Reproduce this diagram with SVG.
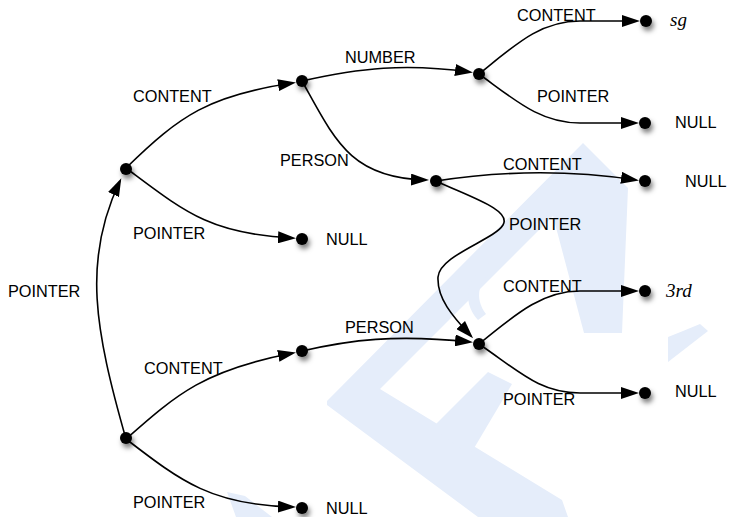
<svg xmlns="http://www.w3.org/2000/svg" width="729" height="517" viewBox="0 0 729 517">
  <defs>
    <style>
      .edge { fill: none; stroke: #000; stroke-width: 1.6; marker-end: url(#arrow); }
      .dot { fill: #000; filter: url(#shadow); }
      .lbl { font-family: "Liberation Sans", Arial, sans-serif; font-size: 16.3px; fill: #000; }
      .val { font-family: "Liberation Serif", "Times New Roman", serif; font-style: italic; font-size: 19px; fill: #000; }
      .mark { fill: #e5edfa; }
    </style>
    <marker id="arrow" markerUnits="userSpaceOnUse" markerWidth="18" markerHeight="12" refX="15" refY="6" orient="auto">
      <path d="M0,0 L18,6 L0,12 z" fill="#000"/>
    </marker>
    <filter id="shadow" x="-100%" y="-100%" width="300%" height="300%">
      <feDropShadow dx="2" dy="4" stdDeviation="2.5" flood-color="#000" flood-opacity="0.5"/>
    </filter>
  </defs>

  <rect width="729" height="517" fill="#fff"/>

  <!-- background monogram -->
  <g id="watermark">
    <polygon class="mark" points="327,401 583,143 628,188 622,333 584,333 553,216 380,389 562,500 568,517 478,517 327,405"/>
    <polygon class="mark" points="432,428 488,372 512,384 470,455"/>
    <path class="mark" d="M490,262 C468,275 460,300 478,320 L486,314 C474,298 478,280 496,268 z"/>
    <polygon class="mark" points="668,362 668,337 683,331 700,324 708,331"/>
    <polygon class="mark" points="227,492 245,496 272,517 236,517"/>
  </g>

  <!-- connectors -->
  <g id="edges">
    <path class="edge" d="M126,439 C95,330 82,260 120,181"/>
    <path class="edge" d="M126,168 C180,115 210,95 293,83"/>
    <path class="edge" d="M126,168 C185,212 210,234 293,238"/>
    <path class="edge" d="M302,81 C360,68 405,63 470,72"/>
    <path class="edge" d="M302,81 C335,140 350,178 426,180"/>
    <path class="edge" d="M479,74 C515,45 540,21 580,21 L637,21"/>
    <path class="edge" d="M479,74 C515,100 540,123 580,123 L636,123"/>
    <path class="edge" d="M436,181 C500,171 570,170 636,180"/>
    <path class="edge" d="M436,181 C470,197 512,210 503,225 C494,240 440,255 438,277 C437,298 452,316 471,336"/>
    <path class="edge" d="M126,439 C178,393 205,370 293,353"/>
    <path class="edge" d="M126,439 C182,482 212,505 293,507"/>
    <path class="edge" d="M302,351 C350,340 395,334 470,342"/>
    <path class="edge" d="M479,344 C520,310 545,291 580,291 L636,291"/>
    <path class="edge" d="M479,344 C520,372 540,393 580,393 L636,393"/>

    <text class="lbl" x="8" y="297">POINTER</text>
    <text class="lbl" x="133" y="102">CONTENT</text>
    <text class="lbl" x="133" y="239">POINTER</text>
    <text class="lbl" x="345" y="63">NUMBER</text>
    <text class="lbl" x="280" y="166">PERSON</text>
    <text class="lbl" x="517" y="21">CONTENT</text>
    <text class="lbl" x="537" y="102">POINTER</text>
    <text class="lbl" x="503" y="170">CONTENT</text>
    <text class="lbl" x="509" y="230">POINTER</text>
    <text class="lbl" x="144" y="374">CONTENT</text>
    <text class="lbl" x="133" y="508">POINTER</text>
    <text class="lbl" x="345" y="333">PERSON</text>
    <text class="lbl" x="503" y="292">CONTENT</text>
    <text class="lbl" x="503" y="405">POINTER</text>
  </g>

  <!-- nodes -->
  <g id="n-a"><circle class="dot" cx="126" cy="169" r="6"/></g>
  <g id="n-b"><circle class="dot" cx="126" cy="438" r="6"/></g>
  <g id="n-c"><circle class="dot" cx="302" cy="81" r="6"/></g>
  <g id="n-d"><circle class="dot" cx="302" cy="239" r="6"/><text class="lbl" x="326" y="245">NULL</text></g>
  <g id="n-e"><circle class="dot" cx="479" cy="74" r="6"/></g>
  <g id="n-f"><circle class="dot" cx="436" cy="181" r="6"/></g>
  <g id="n-g"><circle class="dot" cx="646" cy="21" r="6"/><text class="val" x="670" y="26">sg</text></g>
  <g id="n-h"><circle class="dot" cx="645" cy="123" r="6"/><text class="lbl" x="675" y="128">NULL</text></g>
  <g id="n-i"><circle class="dot" cx="645" cy="181" r="6"/><text class="lbl" x="685" y="187">NULL</text></g>
  <g id="n-j"><circle class="dot" cx="479" cy="344" r="6"/></g>
  <g id="n-k"><circle class="dot" cx="302" cy="351" r="6"/></g>
  <g id="n-l"><circle class="dot" cx="645" cy="291" r="6"/><text class="val" x="666" y="297">3rd</text></g>
  <g id="n-m"><circle class="dot" cx="645" cy="393" r="6"/><text class="lbl" x="675" y="397">NULL</text></g>
  <g id="n-n"><circle class="dot" cx="302" cy="508" r="6"/><text class="lbl" x="326" y="514">NULL</text></g>
</svg>
